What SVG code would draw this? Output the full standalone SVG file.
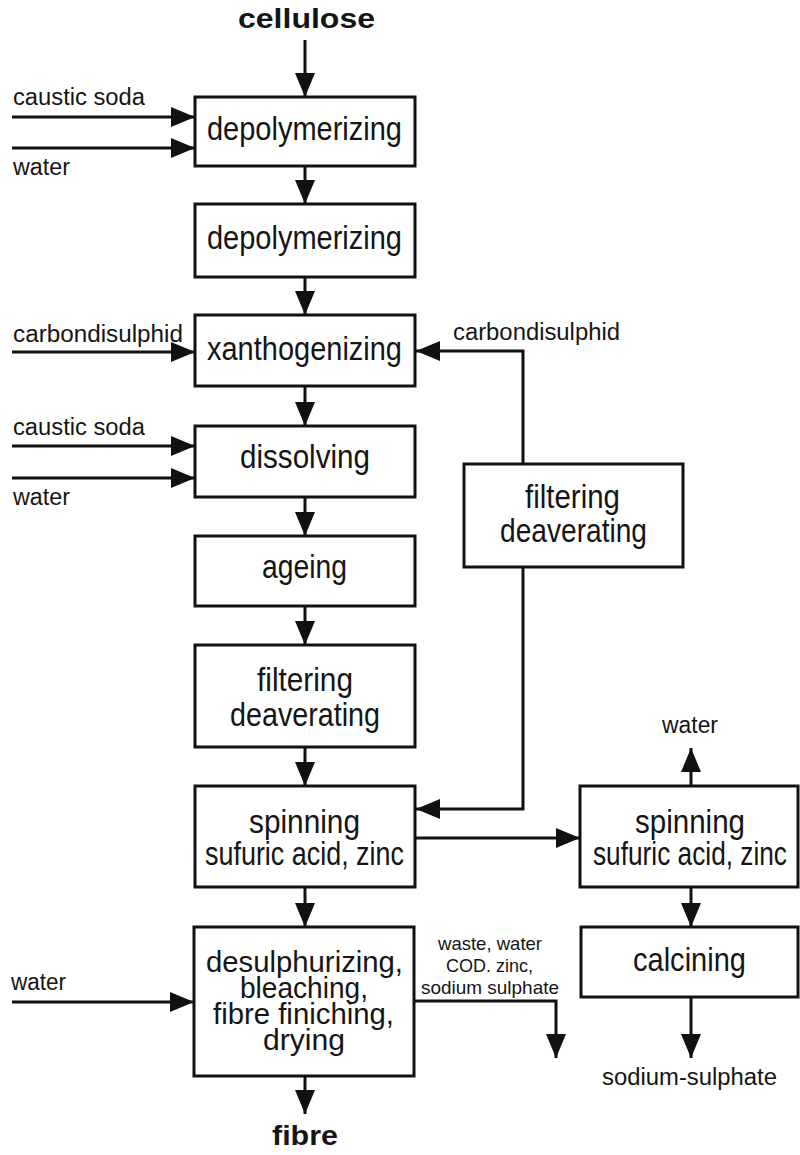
<svg xmlns="http://www.w3.org/2000/svg" width="800" height="1155" viewBox="0 0 800 1155">
<defs>
<marker id="ah" markerUnits="userSpaceOnUse" markerWidth="24" markerHeight="20" refX="24" refY="10" orient="auto">
<path d="M0,0 L24,10 L0,20 z" fill="#111"/>
</marker>
<style>
.box{fill:#fff;stroke:#111;stroke-width:3}
.c{fill:none;stroke:#111;stroke-width:3;marker-end:url(#ah)}
text{font-family:"Liberation Sans",Arial,sans-serif;fill:#151515}
.t{font-size:33px}
.d{font-size:29px}
.l{font-size:23px}
.s{font-size:19px}
.b{font-size:28px;font-weight:bold}
</style>
</defs>
<rect width="800" height="1155" fill="#fff"/>
<g id="connectors">
<line class="c" x1="305" y1="40" x2="305" y2="97"/>
<line class="c" x1="305" y1="166" x2="305" y2="204"/>
<line class="c" x1="305" y1="277" x2="305" y2="315"/>
<line class="c" x1="305" y1="386" x2="305" y2="426"/>
<line class="c" x1="305" y1="497" x2="305" y2="536"/>
<line class="c" x1="305" y1="606" x2="305" y2="645"/>
<line class="c" x1="305" y1="747" x2="305" y2="786"/>
<line class="c" x1="305" y1="887" x2="305" y2="927"/>
<line class="c" x1="305" y1="1076" x2="305" y2="1114"/>
<line class="c" x1="12" y1="117" x2="195" y2="117"/>
<line class="c" x1="12" y1="148" x2="195" y2="148"/>
<line class="c" x1="12" y1="352" x2="195" y2="352"/>
<line class="c" x1="12" y1="446" x2="195" y2="446"/>
<line class="c" x1="12" y1="478" x2="195" y2="478"/>
<line class="c" x1="12" y1="1002" x2="194" y2="1002"/>
<polyline class="c" points="523,464 523,351 416,351"/>
<polyline class="c" points="523,567 523,809 416,809"/>
<line class="c" x1="415" y1="838" x2="580" y2="838"/>
<line class="c" x1="691" y1="786" x2="691" y2="748"/>
<line class="c" x1="691" y1="887" x2="691" y2="927"/>
<line class="c" x1="691" y1="997" x2="691" y2="1058"/>
<polyline class="c" points="414,1001 556,1001 556,1058"/>
</g>
<g id="cellulose"><text class="b" x="238" y="28" textLength="137" lengthAdjust="spacingAndGlyphs">cellulose</text></g>
<g id="in-caustic1"><text class="l" x="13" y="105" textLength="132" lengthAdjust="spacingAndGlyphs">caustic soda</text></g>
<g id="in-water1"><text class="l" x="13" y="175" textLength="57" lengthAdjust="spacingAndGlyphs">water</text></g>
<g id="depoly1"><rect class="box" x="195" y="97" width="220" height="69"/><text class="t" x="207" y="140" textLength="195" lengthAdjust="spacingAndGlyphs">depolymerizing</text></g>
<g id="depoly2"><rect class="box" x="195" y="204" width="220" height="73"/><text class="t" x="207" y="249" textLength="195" lengthAdjust="spacingAndGlyphs">depolymerizing</text></g>
<g id="in-cs2-left"><text class="l" x="13" y="342" textLength="170" lengthAdjust="spacingAndGlyphs">carbondisulphid</text></g>
<g id="xantho"><rect class="box" x="195" y="315" width="220" height="71"/><text class="t" x="207" y="360" textLength="195" lengthAdjust="spacingAndGlyphs">xanthogenizing</text></g>
<g id="in-caustic2"><text class="l" x="13" y="435" textLength="132" lengthAdjust="spacingAndGlyphs">caustic soda</text></g>
<g id="in-water2"><text class="l" x="13" y="505" textLength="57" lengthAdjust="spacingAndGlyphs">water</text></g>
<g id="dissolving"><rect class="box" x="195" y="426" width="220" height="71"/><text class="t" x="240" y="468" textLength="130" lengthAdjust="spacingAndGlyphs">dissolving</text></g>
<g id="ageing"><rect class="box" x="195" y="536" width="220" height="70"/><text class="t" x="262" y="578" textLength="85" lengthAdjust="spacingAndGlyphs">ageing</text></g>
<g id="filter1"><rect class="box" x="195" y="645" width="220" height="102"/><text class="t" x="257" y="691" textLength="96" lengthAdjust="spacingAndGlyphs">filtering</text><text class="t" x="230" y="726" textLength="150" lengthAdjust="spacingAndGlyphs">deaverating</text></g>
<g id="cs2-right"><text class="l" x="453" y="340" textLength="167" lengthAdjust="spacingAndGlyphs">carbondisulphid</text></g>
<g id="filter2"><rect class="box" x="464" y="464" width="219" height="103"/><text class="t" x="525" y="508" textLength="95" lengthAdjust="spacingAndGlyphs">filtering</text><text class="t" x="500" y="542" textLength="147" lengthAdjust="spacingAndGlyphs">deaverating</text></g>
<g id="spinning1"><rect class="box" x="195" y="786" width="220" height="101"/><text class="t" x="249" y="833" textLength="111" lengthAdjust="spacingAndGlyphs">spinning</text><text class="t" x="205" y="865" textLength="199" lengthAdjust="spacingAndGlyphs">sufuric acid, zinc</text></g>
<g id="out-water"><text class="l" x="662" y="733" textLength="56" lengthAdjust="spacingAndGlyphs">water</text></g>
<g id="spinning2"><rect class="box" x="580" y="786" width="218" height="101"/><text class="t" x="635" y="833" textLength="110" lengthAdjust="spacingAndGlyphs">spinning</text><text class="t" x="593" y="865" textLength="194" lengthAdjust="spacingAndGlyphs">sufuric acid, zinc</text></g>
<g id="calcining"><rect class="box" x="581" y="927" width="217" height="70"/><text class="t" x="633" y="971" textLength="113" lengthAdjust="spacingAndGlyphs">calcining</text></g>
<g id="out-sodium"><text class="l" x="602" y="1085" textLength="175" lengthAdjust="spacingAndGlyphs">sodium-sulphate</text></g>
<g id="in-water3"><text class="l" x="11" y="990" textLength="55" lengthAdjust="spacingAndGlyphs">water</text></g>
<g id="desulph"><rect class="box" x="194" y="927" width="220" height="149"/>
<text class="d" x="206" y="972" textLength="197" lengthAdjust="spacingAndGlyphs">desulphurizing,</text>
<text class="d" x="240" y="998" textLength="128" lengthAdjust="spacingAndGlyphs">bleaching,</text>
<text class="d" x="213" y="1024" textLength="181" lengthAdjust="spacingAndGlyphs">fibre finiching,</text>
<text class="d" x="263" y="1050" textLength="82" lengthAdjust="spacingAndGlyphs">drying</text></g>
<g id="out-waste">
<text class="s" x="438" y="950" textLength="104" lengthAdjust="spacingAndGlyphs">waste, water</text>
<text class="s" x="446" y="972" textLength="87" lengthAdjust="spacingAndGlyphs">COD. zinc,</text>
<text class="s" x="421" y="994" textLength="138" lengthAdjust="spacingAndGlyphs">sodium sulphate</text></g>
<g id="fibre"><text class="b" x="272" y="1145" textLength="66" lengthAdjust="spacingAndGlyphs">fibre</text></g>
</svg>
